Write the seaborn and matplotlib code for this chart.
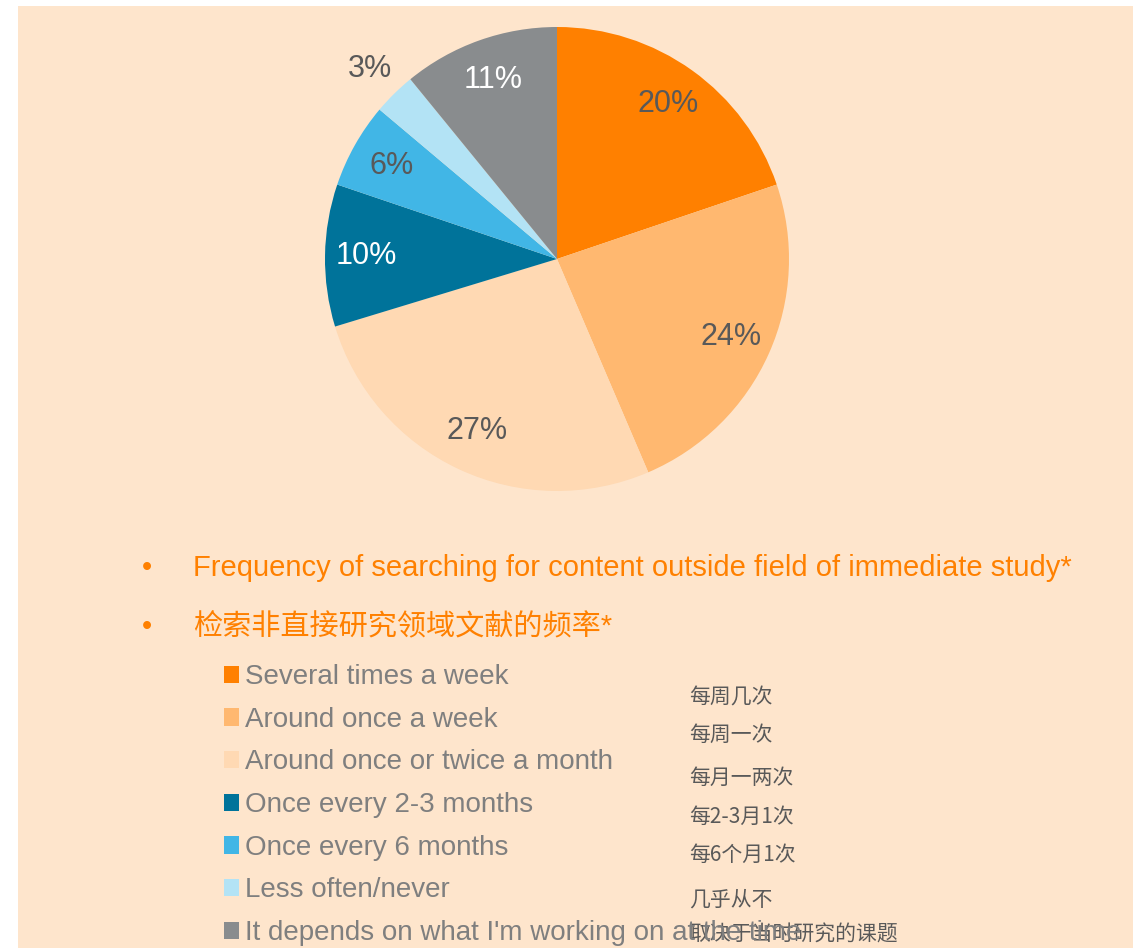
import matplotlib
matplotlib.use("Agg")
import matplotlib.pyplot as plt
from matplotlib.patches import Rectangle
import numpy as np
import seaborn as sns

# Survey answers and their shares (percent)
categories = [
    "Several times a week",
    "Around once a week",
    "Around once or twice a month",
    "Once every 2-3 months",
    "Once every 6 months",
    "Less often/never",
    "It depends on what I'm working on at the time",
]
shares = [20, 24, 27, 10, 6, 3, 11]
categories_zh = [
    "每周几次",
    "每周一次",
    "每月一两次",
    "每2-3月1次",
    "每6个月1次",
    "几乎从不",
    "取决于当时研究的课题",
]
title_en = "Frequency of searching for content outside field of immediate study*"
title_zh = "检索非直接研究领域文献的频率*"

slice_colors = ["#FF8000", "#FFB870", "#FFD9B3", "#00739A", "#41B6E6", "#B3E3F5", "#898C8E"]
label_colors = ["#595959", "#595959", "#595959", "#FFFFFF", "#595959", "#595959", "#FFFFFF"]

sns.set_theme(style="white")
plt.rcParams["font.family"] = ["Liberation Sans", "Noto Sans CJK SC", "DejaVu Sans"]

W, H = 1140, 948
fig = plt.figure(figsize=(W / 100, H / 100), dpi=100, facecolor="white")

# peach panel behind everything
fig.patches.append(Rectangle((18 / W, 0), (1133 - 18) / W, 1 - 6 / H,
                             transform=fig.transFigure, facecolor="#FEE5CC",
                             edgecolor="none", zorder=-5))

# pie axes: centre (557, 259) px, radius 232 px
cx, cy, r = 557, 259, 232
ax = fig.add_axes([(cx - r) / W, 1 - (cy + r) / H, 2 * r / W, 2 * r / H])
ax.set_facecolor("none")
ax.set_zorder(2)
palette = sns.color_palette(slice_colors)
total = sum(shares)
wedges, texts, autotexts = ax.pie(
    shares, colors=palette, startangle=90, counterclock=False,
    autopct=lambda p: f"{round(p * total / 100):d}%", pctdistance=0.82,
    wedgeprops=dict(linewidth=0), textprops=dict(fontsize=22),
)
ax.set_xlim(-1, 1)
ax.set_ylim(-1, 1)
ax.set_aspect("equal")
ax.axis("off")
for t, c in zip(autotexts, label_colors):
    t.set_color(c)
    t.set_clip_on(False)
# the smallest slice gets its label outside the pie
w = wedges[5]
mid = np.deg2rad((w.theta1 + w.theta2) / 2)
autotexts[5].set_position((1.15 * np.cos(mid), 1.15 * np.sin(mid)))

def ftext(x, y, s, **kw):
    fig.text(x / W, 1 - y / H, s, va="center", **kw)

orange = "#FF8000"
ftext(142, 568, "•", color=orange, fontsize=21)
ftext(193, 568, title_en, color=orange, fontsize=21)
ftext(142, 627, "•", color=orange, fontsize=21)
ftext(193, 627, title_zh, color=orange, fontsize=21)

# legend built from the wedges
leg = fig.legend(
    wedges, categories, loc="upper left",
    bbox_to_anchor=(224 / W, 1 - 664 / H), bbox_transform=fig.transFigure,
    frameon=False, fontsize=20, handlelength=0.54, handleheight=0.58,
    handletextpad=0.22, labelspacing=0.6, borderpad=0, borderaxespad=0,
)
for txt in leg.get_texts():
    txt.set_color("#7F7F7F")

zh_rows = [698, 735, 778, 817, 855, 900, 935]
for y, s in zip(zh_rows, categories_zh):
    ftext(689, y, s, color="#595959", fontsize=15,
          family=["Noto Sans CJK SC", "DejaVu Sans"])

fig.savefig("out.png", dpi=100, facecolor="white")
